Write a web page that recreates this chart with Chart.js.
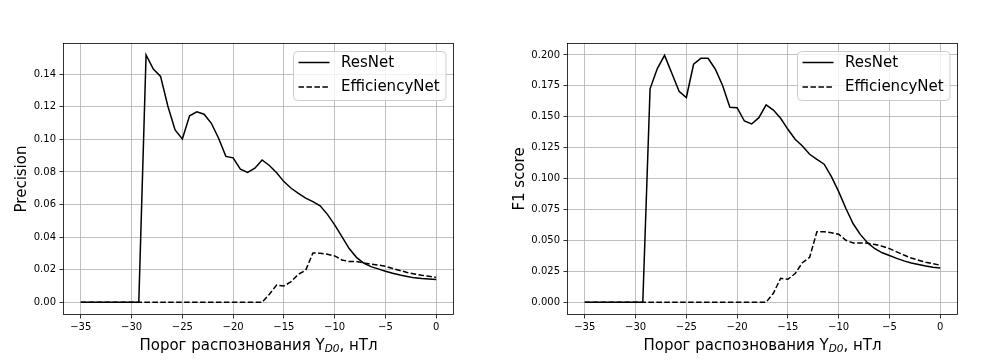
<!DOCTYPE html>
<html>
<head>
<meta charset="utf-8">
<script src="https://cdn.jsdelivr.net/npm/chart.js@4.4.1/dist/chart.umd.min.js"></script>
<style>
  html, body { margin: 0; padding: 0; background: #fff; }
  #wrap { position: relative; width: 1008px; height: 360px; }
  canvas { position: absolute; top: 0; }
</style>
</head>
<body>
<div id="wrap">
  <canvas id="c1" width="504" height="360" style="left:0px"></canvas>
  <canvas id="c2" width="504" height="360" style="left:504px"></canvas>
</div>
<script>
// ---- data ----
const thresholds = [-35, -34.286, -33.571, -32.857, -32.143, -31.429, -30.714, -30, -29.286, -28.571,
  -27.857, -27.143, -26.429, -25.714, -25, -24.286, -23.571, -22.857, -22.143, -21.429,
  -20.714, -20, -19.286, -18.571, -17.857, -17.143, -16.429, -15.714, -15, -14.286,
  -13.571, -12.857, -12.143, -11.429, -10.714, -10, -9.286, -8.571, -7.857, -7.143,
  -6.429, -5.714, -5, -4.286, -3.571, -2.857, -2.143, -1.429, -0.714, 0];

const seriesNames = ['ResNet', 'EfficiencyNet'];

const precisionResNet = [0, 0, 0, 0, 0, 0, 0, 0, 0, 0.1519,
  0.1432, 0.1387, 0.1205, 0.1058, 0.1003, 0.1145, 0.1169, 0.1155, 0.1099, 0.1007,
  0.0896, 0.0887, 0.0817, 0.0798, 0.0823, 0.0874, 0.0840, 0.0795, 0.0741, 0.0700,
  0.0669, 0.0639, 0.0618, 0.0592, 0.0540, 0.0475, 0.0403, 0.0330, 0.0276, 0.0240,
  0.0219, 0.0205, 0.0191, 0.0178, 0.0167, 0.0158, 0.0150, 0.0146, 0.0143, 0.0140];

const precisionEffNet = [0, 0, 0, 0, 0, 0, 0, 0, 0, 0,
  0, 0, 0, 0, 0, 0, 0, 0, 0, 0,
  0, 0, 0, 0, 0, 0, 0.0050, 0.0106, 0.0100, 0.0127,
  0.0172, 0.0196, 0.0303, 0.0301, 0.0295, 0.0285, 0.0260, 0.0250, 0.0250, 0.0242,
  0.0234, 0.0229, 0.0221, 0.0208, 0.0195, 0.0183, 0.0174, 0.0166, 0.0160, 0.0153];

const f1ResNet = [0, 0, 0, 0, 0, 0, 0, 0, 0, 0.1726,
  0.1890, 0.1997, 0.1852, 0.1706, 0.1656, 0.1925, 0.1973, 0.1973, 0.1885, 0.1754,
  0.1577, 0.1574, 0.1466, 0.1442, 0.1493, 0.1596, 0.1555, 0.1488, 0.1399, 0.1318,
  0.1264, 0.1197, 0.1156, 0.1117, 0.1016, 0.0895, 0.0758, 0.0635, 0.0547, 0.0480,
  0.0433, 0.0400, 0.0378, 0.0355, 0.0335, 0.0318, 0.0306, 0.0294, 0.0284, 0.0278];

const f1EffNet = [0, 0, 0, 0, 0, 0, 0, 0, 0, 0,
  0, 0, 0, 0, 0, 0, 0, 0, 0, 0,
  0, 0, 0, 0, 0, 0, 0.0073, 0.0194, 0.0186, 0.0232,
  0.0320, 0.0364, 0.0571, 0.0571, 0.0563, 0.0550, 0.0501, 0.0480, 0.0480, 0.0478,
  0.0467, 0.0453, 0.0434, 0.0408, 0.0382, 0.0358, 0.0340, 0.0323, 0.0312, 0.0300];

const xTicks = [-35, -30, -25, -20, -15, -10, -5, 0];
const precisionTicks = [0, 0.02, 0.04, 0.06, 0.08, 0.10, 0.12, 0.14];
const f1Ticks = [0, 0.025, 0.05, 0.075, 0.1, 0.125, 0.15, 0.175, 0.2];

// ---- drawing ----
const FONT = 'DejaVu Sans';
const dashPattern = [5.55, 2.4];

function fmtX(v) {
  return v < 0 ? '\u2212' + Math.abs(v) : String(v);
}

function overlayPlugin(yTitle, yTitleX) {
  return {
    id: 'overlay',
    afterDraw(chart) {
      const ctx = chart.ctx;
      const a = chart.chartArea;
      ctx.save();
      // frame
      ctx.strokeStyle = '#000';
      ctx.lineWidth = 0.8;
      ctx.strokeRect(Math.round(a.left) + 0.5, Math.round(a.top) + 0.5,
        Math.round(a.right - a.left) - 1, Math.round(a.bottom - a.top) - 1);

      // legend
      const lx = a.left + 230.5, ly = a.top + 8.5, lw = 152.5, lh = 49, r = 4;
      ctx.beginPath();
      ctx.moveTo(lx + r, ly);
      ctx.lineTo(lx + lw - r, ly);
      ctx.quadraticCurveTo(lx + lw, ly, lx + lw, ly + r);
      ctx.lineTo(lx + lw, ly + lh - r);
      ctx.quadraticCurveTo(lx + lw, ly + lh, lx + lw - r, ly + lh);
      ctx.lineTo(lx + r, ly + lh);
      ctx.quadraticCurveTo(lx, ly + lh, lx, ly + lh - r);
      ctx.lineTo(lx, ly + r);
      ctx.quadraticCurveTo(lx, ly, lx + r, ly);
      ctx.closePath();
      ctx.fillStyle = 'rgba(255,255,255,0.8)';
      ctx.fill();
      ctx.strokeStyle = '#cccccc';
      ctx.lineWidth = 1;
      ctx.stroke();

      const rows = [a.top + 19.5, a.top + 44];
      chart.data.datasets.forEach((ds, i) => {
        const y = rows[i];
        ctx.beginPath();
        ctx.strokeStyle = ds.borderColor;
        ctx.lineWidth = ds.borderWidth;
        ctx.setLineDash(ds.borderDash || []);
        ctx.moveTo(a.left + 235.5, y);
        ctx.lineTo(a.left + 266.5, y);
        ctx.stroke();
        ctx.setLineDash([]);
        ctx.fillStyle = '#000';
        ctx.font = '15px "' + FONT + '"';
        ctx.textBaseline = 'middle';
        ctx.textAlign = 'left';
        ctx.fillText(ds.label, a.left + 278, y + 0.5);
      });

      // y title
      ctx.save();
      ctx.translate(yTitleX, (a.top + a.bottom) / 2);
      ctx.rotate(-Math.PI / 2);
      ctx.font = '15px "' + FONT + '"';
      ctx.textAlign = 'center';
      ctx.textBaseline = 'middle';
      ctx.fillStyle = '#000';
      ctx.fillText(yTitle, 0, 0);
      ctx.restore();

      // x title with subscript
      const p1 = 'Порог распознования Y';
      const sub = 'D0';
      const p2 = ', нТл';
      const mainFont = '15px "' + FONT + '"';
      const subFont = 'italic 10.5px "' + FONT + '"';
      ctx.font = mainFont;
      const w1 = ctx.measureText(p1).width;
      const w3 = ctx.measureText(p2).width;
      ctx.font = subFont;
      const w2 = ctx.measureText(sub).width;
      const total = w1 + w2 + w3;
      const cx = (a.left + a.right) / 2;
      let x = cx - total / 2;
      const base = 349.5;
      ctx.textAlign = 'left';
      ctx.textBaseline = 'alphabetic';
      ctx.fillStyle = '#000';
      ctx.font = mainFont;
      ctx.fillText(p1, x, base);
      x += w1;
      ctx.font = subFont;
      ctx.fillText(sub, x, base + 2.5);
      x += w2;
      ctx.font = mainFont;
      ctx.fillText(p2, x, base);
      ctx.restore();
    }
  };
}

function makeChart(id, resVals, effVals, yMin, yMax, yTicks, decimals, yTitle, yTitleX) {
  const pts = (vals) => thresholds.map((t, i) => ({ x: t, y: vals[i] }));
  return new Chart(document.getElementById(id), {
    type: 'line',
    data: {
      datasets: [
        { label: seriesNames[0], data: pts(resVals), borderColor: '#000', borderWidth: 1.5,
          pointRadius: 0, tension: 0, fill: false },
        { label: seriesNames[1], data: pts(effVals), borderColor: '#000', borderWidth: 1.5,
          borderDash: dashPattern, pointRadius: 0, tension: 0, fill: false }
      ]
    },
    options: {
      responsive: false,
      animation: false,
      devicePixelRatio: 1,
      layout: { padding: { top: 43, right: 50, left: 0, bottom: 0 } },
      plugins: { legend: { display: false }, tooltip: { enabled: false } },
      scales: {
        x: {
          type: 'linear',
          min: -36.75,
          max: 1.75,
          afterBuildTicks: (s) => { s.ticks = xTicks.map(v => ({ value: v })); },
          afterFit: (s) => { s.height = 45; },
          grid: { color: '#b0b0b0', lineWidth: 0.8, drawTicks: true, tickLength: 3.5,
                  tickColor: '#000', tickWidth: 0.8 },
          border: { display: false },
          ticks: { color: '#000', font: { family: FONT, size: 10 }, padding: 3,
                   maxRotation: 0, autoSkip: false, callback: (v) => fmtX(v) }
        },
        y: {
          type: 'linear',
          min: yMin,
          max: yMax,
          afterBuildTicks: (s) => { s.ticks = yTicks.map(v => ({ value: v })); },
          afterFit: (s) => { s.width = 63; },
          grid: { color: '#b0b0b0', lineWidth: 0.8, drawTicks: true, tickLength: 3.5,
                  tickColor: '#000', tickWidth: 0.8 },
          border: { display: false },
          ticks: { color: '#000', font: { family: FONT, size: 10 }, padding: 3.5,
                   autoSkip: false, callback: (v) => Number(v).toFixed(decimals) }
        }
      }
    },
    plugins: [overlayPlugin(yTitle, yTitleX)]
  });
}

makeChart('c1', precisionResNet, precisionEffNet, -0.0078, 0.1592, precisionTicks, 2, 'Precision', 22);
makeChart('c2', f1ResNet, f1EffNet, -0.0103, 0.2097, f1Ticks, 3, 'F1 score', 16);
</script>
</body>
</html>
